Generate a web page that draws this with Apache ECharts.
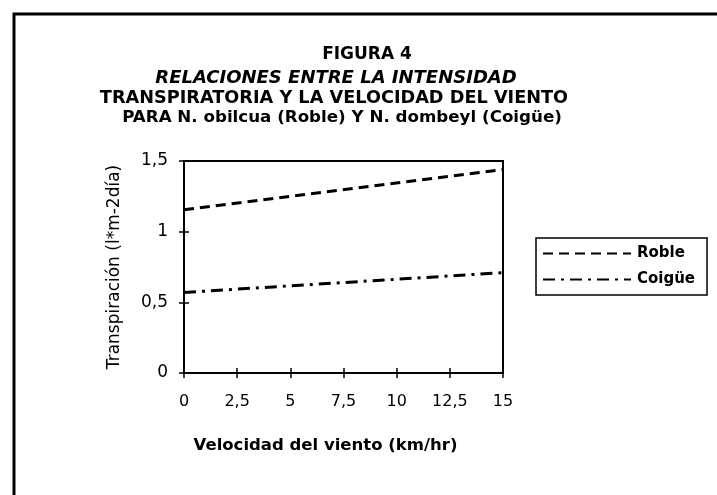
<!DOCTYPE html>
<html>
<head>
<meta charset="utf-8">
<script src="https://cdn.jsdelivr.net/npm/echarts@6/dist/echarts.min.js"></script>
<style>
html,body{margin:0;padding:0;background:#fff;}
#c{width:717px;height:495px;}
</style>
</head>
<body>
<div id="c"></div>
<script>
var titleLines = [
  'FIGURA 4',
  'RELACIONES ENTRE LA INTENSIDAD',
  'TRANSPIRATORIA Y LA VELOCIDAD DEL VIENTO',
  'PARA N. obilcua (Roble) Y N. dombeyl (Coigüe)'
];
var xAxisName = 'Velocidad del viento (km/hr)';
var yAxisName = 'Transpiración (l*m-2día)';
var seriesNames = ['Roble', 'Coigüe'];
var xValues = [0, 15];
var roble = [1.155, 1.44];
var coigue = [0.57, 0.71];

var FONT = '"DejaVu Sans", Verdana, sans-serif';
function pairs(ys){ return xValues.map(function(x,i){ return [x, ys[i]]; }); }
function comma(v){ return String(v).replace('.', ','); }

var chart = echarts.init(document.getElementById('c'), null, {renderer:'canvas'});
var axisLine = {show:true, lineStyle:{color:'#000', width:2}};
var grid = {left:184, top:161, right:214, bottom:122, show:true, borderColor:'#000', borderWidth:2, backgroundColor:'transparent'};
chart.setOption({
  backgroundColor:'#fff',
  animation:false,
  graphic:[
    {type:'rect', shape:{x:14, y:14, width:760, height:540}, style:{fill:'none', stroke:'#000', lineWidth:3}, silent:true},
    {type:'text', style:{text:titleLines[0], x:367, y:55, textAlign:'center', textVerticalAlign:'middle', font:'bold 17px ' + FONT, fill:'#000'}},
    {type:'text', style:{text:titleLines[1], x:336, y:78, textAlign:'center', textVerticalAlign:'middle', font:'italic bold 18px ' + FONT, fill:'#000'}},
    {type:'text', style:{text:titleLines[2], x:334, y:98, textAlign:'center', textVerticalAlign:'middle', font:'bold 17.7px ' + FONT, fill:'#000'}},
    {type:'text', style:{text:titleLines[3], x:342, y:118, textAlign:'center', textVerticalAlign:'middle', font:'bold 16.7px ' + FONT, fill:'#000'}}
  ],
  grid: grid,
  legend:{
    orient:'vertical', left:536, top:238,
    padding:[8,12,8,6], itemGap:11, itemWidth:88, itemHeight:14,
    borderColor:'#000', borderWidth:1.5,
    itemStyle:{opacity:0, borderWidth:0},
    textStyle:{fontFamily:FONT, fontWeight:'bold', fontSize:15, color:'#000', padding:[0,0,0,1]},
    data: seriesNames
  },
  xAxis:[{
    type:'value', min:0, max:15, interval:2.5,
    name:xAxisName, nameLocation:'middle', nameGap:64,
    nameTextStyle:{fontFamily:FONT, fontWeight:'bold', fontSize:16.5, color:'#000', padding:[0,36,0,0]},
    axisLine:axisLine, axisTick:{show:true, length:5, lineStyle:{color:'#000', width:1.5}},
    axisLabel:{fontFamily:FONT, fontSize:16, color:'#000', margin:21, formatter:comma},
    splitLine:{show:false}
  },{
    type:'value', min:0, max:15, interval:2.5, position:'bottom',
    axisLine:{show:false}, axisTick:{show:true, inside:true, length:5, lineStyle:{color:'#000', width:1.5}},
    axisLabel:{show:false}, splitLine:{show:false}
  }],
  yAxis:[{
    type:'value', min:0, max:1.5, interval:0.5,
    name:yAxisName, nameLocation:'middle', nameGap:61, nameRotate:90,
    nameTextStyle:{fontFamily:FONT, fontSize:17, color:'#000'},
    axisLine:axisLine, axisTick:{show:true, length:5, lineStyle:{color:'#000', width:1.5}},
    axisLabel:{fontFamily:FONT, fontSize:17, color:'#000', margin:16, formatter:comma},
    splitLine:{show:false}
  },{
    type:'value', min:0, max:1.5, interval:0.5, position:'left',
    axisLine:{show:false}, axisTick:{show:true, inside:true, length:5, lineStyle:{color:'#000', width:1.5}},
    axisLabel:{show:false}, splitLine:{show:false}
  }],
  series:[
    {name:seriesNames[0], type:'line', data:pairs(roble), symbol:'none',
     lineStyle:{color:'#000', width:3, type:[10,6]}, itemStyle:{color:'#000'}},
    {name:seriesNames[1], type:'line', data:pairs(coigue), symbol:'none',
     lineStyle:{color:'#000', width:3, type:[12,6,3,6]}, itemStyle:{color:'#000'}}
  ]
});
</script>
</body>
</html>
